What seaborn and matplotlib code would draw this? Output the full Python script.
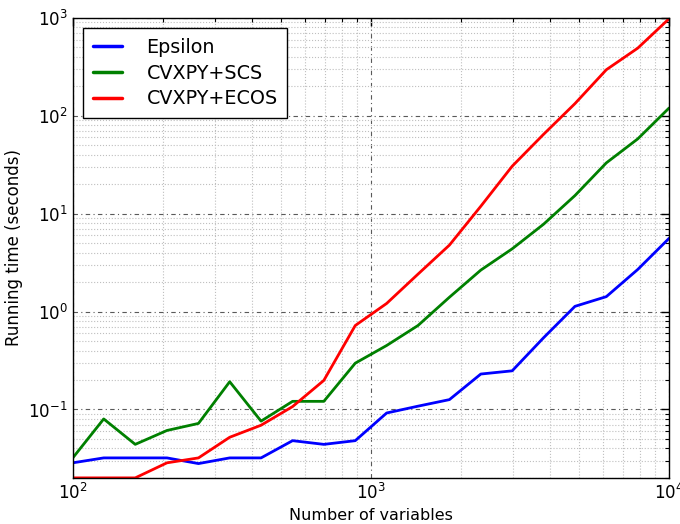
import numpy as np
import pandas as pd
import matplotlib
matplotlib.use('Agg')
import matplotlib.pyplot as plt
import seaborn as sns

# Data
n_vars = [100, 127, 162, 207, 264, 336, 428, 546, 695, 886,
          1129, 1438, 1833, 2336, 2976, 3793, 4833, 6158, 7848, 10000]
epsilon = [0.0285, 0.032, 0.032, 0.032, 0.028, 0.032, 0.032, 0.048, 0.044, 0.048,
           0.092, 0.108, 0.126, 0.23, 0.248, 0.54, 1.13, 1.42, 2.69, 5.6]
cvxpy_scs = [0.032, 0.080, 0.044, 0.061, 0.072, 0.192, 0.076, 0.121, 0.121, 0.297,
             0.45, 0.72, 1.40, 2.65, 4.37, 7.8, 15.3, 33, 58, 120]
cvxpy_ecos = [0.02, 0.02, 0.02, 0.0285, 0.032, 0.052, 0.069, 0.107, 0.198, 0.72,
              1.21, 2.41, 4.77, 11.9, 30.5, 64.6, 133, 295, 490, 980]
labels = ['Epsilon', 'CVXPY+SCS', 'CVXPY+ECOS']

df = pd.DataFrame({
    'n': n_vars * 3,
    'time': epsilon + cvxpy_scs + cvxpy_ecos,
    'method': [labels[0]] * 20 + [labels[1]] * 20 + [labels[2]] * 20,
})

sns.set_style('white')
plt.rcParams['font.family'] = ['DejaVu Sans']
plt.rcParams['text.color'] = 'black'
plt.rcParams['axes.labelcolor'] = 'black'
plt.rcParams['xtick.color'] = 'black'
plt.rcParams['ytick.color'] = 'black'
plt.rcParams['xtick.direction'] = 'in'
plt.rcParams['ytick.direction'] = 'in'

fig = plt.figure(figsize=(6.8, 5.24), dpi=100)
ax = fig.add_axes([0.107, 0.088, 0.877, 0.878])

sns.lineplot(data=df, x='n', y='time', hue='method', estimator=None,
             palette=['#0000ff', '#008000', '#ff0000'], linewidth=2, ax=ax)

ax.set_xscale('log')
ax.set_yscale('log')
ax.set_xlim(100, 10000)
ax.set_ylim(0.02, 1000)

ax.grid(True, which='major', linestyle=(0, (4, 3, 1, 3)), color='0.35', linewidth=0.8)
ax.grid(True, which='minor', linestyle=':', color='0.75', linewidth=0.8)

ax.tick_params(which='both', top=True, right=True, direction='in', labelsize=12)
ax.tick_params(which='major', length=6, width=1)
ax.tick_params(which='minor', length=3, width=0.8)
for s in ax.spines.values():
    s.set_color('black')
    s.set_linewidth(1)

ax.set_xlabel('Number of variables', fontsize=11.5)
ax.set_ylabel('Running time (seconds)', fontsize=12)

handles, _ = ax.get_legend_handles_labels()
leg = ax.legend(handles, labels, loc='upper left', fontsize=13.8, fancybox=False,
                framealpha=1, edgecolor='black', borderpad=0.5, handlelength=1.5,
                handletextpad=1.3, labelspacing=0.35, borderaxespad=0.55)
leg.get_frame().set_linewidth(1)
for ln in leg.get_lines():
    ln.set_linewidth(2.5)

fig.savefig('out.png', dpi=100, facecolor='white')
